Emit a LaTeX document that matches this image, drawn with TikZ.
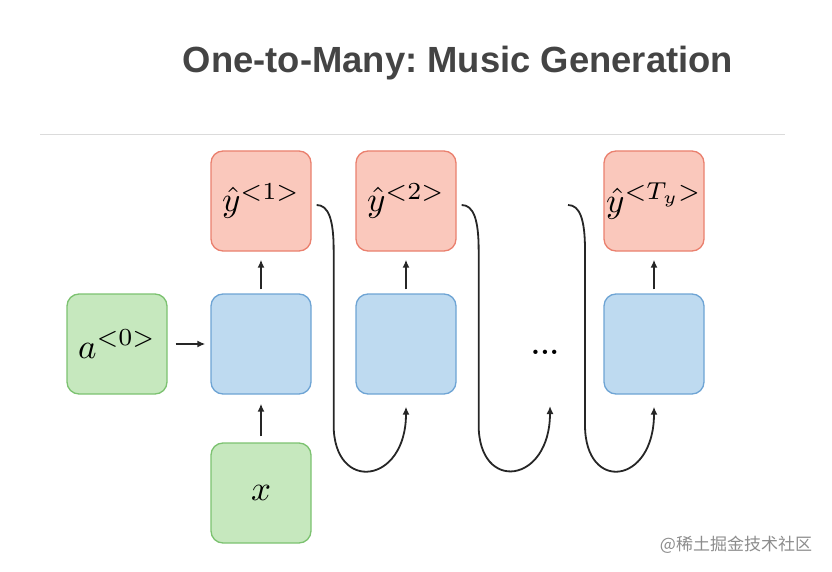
\documentclass[tikz,border=0pt]{standalone}
\usepackage{fontspec}
\usepackage{amsmath}
\usetikzlibrary{arrows.meta}
\newfontfamily\titlefont{Liberation Sans}
\newfontfamily\cjk{Noto Sans CJK SC}
\definecolor{yhat_fill}{RGB}{250,200,188}
\definecolor{yhat_line}{RGB}{234,128,110}
\definecolor{cell_fill}{RGB}{190,218,240}
\definecolor{cell_line}{RGB}{110,164,212}
\definecolor{in_fill}{RGB}{198,232,190}
\definecolor{in_line}{RGB}{124,194,112}
\definecolor{title_gray}{RGB}{68,68,68}
\newcommand{\cellmath}[1]{\scalebox{3.5}{$#1$}}

\tikzset{
  unit/.style={minimum width=100pt, minimum height=100pt, rounded corners=12pt,
    line width=1.3pt, inner sep=0pt},
  output/.style={unit, fill=yhat_fill, draw=yhat_line},
  rnn/.style={unit, fill=cell_fill, draw=cell_line},
  input/.style={unit, fill=in_fill, draw=in_line},
  link/.style={-{Latex[length=8pt,width=7pt]}, line width=1.8pt, draw=black!85},
}

\begin{document}
\begin{tikzpicture}[x=1pt,y=-1pt]
\useasboundingbox (0,0) rectangle (832,572);

\node[font=\titlefont\bfseries\fontsize{36.4}{40}\selectfont, text=title_gray, anchor=base]
  (title) at (458,73) {One-to-Many:\ Music Generation};
\coordinate (rule_l) at (40,135);
\coordinate (rule_r) at (785,135);
\draw[black!14, line width=1pt] (rule_l) -- (rule_r);

% outputs
\node[output] (y1) at (261,201) {\cellmath{\hat{y}^{<1>}}};
\node[output] (y2) at (406,201) {\cellmath{\hat{y}^{<2>}}};
\node[output] (yT) at (654,201) {\cellmath{\hat{y}^{<T_y>}}};

% cells
\node[rnn] (c1) at (261,344) {};
\node[rnn] (c2) at (406,344) {};
\node[rnn] (cT) at (654,344) {};

% inputs
\node[input] (a0) at (117,344) {\cellmath{a^{<0>}}};
\node[input] (x) at (261,493) {\cellmath{x}};

\node[font=\bfseries\fontsize{30}{30}\selectfont] (dots) at (545,352) {...};
\coordinate (dots_in) at (550,394);
\coordinate (dots_out) at (563,201);

\draw[link] ([xshift=8pt]a0.east) -- ([xshift=-5pt]c1.west);
\draw[link] ([yshift=6pt]x.north) -- ([yshift=-9pt]c1.south);
\foreach \c/\y in {c1/y1, c2/y2, cT/yT}
  \draw[link] ([yshift=4pt]\c.north) -- ([yshift=-8pt]\y.south);

% a carried to the next step
\foreach \from/\to in {y1.east/c2.south, y2.east/dots_in, dots_out/cT.south}
  \draw[link] ([xshift=5pt,yshift=-4pt]\from) .. controls +(12,0) and +(0,-30) .. ++(17,45)
    -- ++(0,175) .. controls +(0,68) and +(0,78) .. ([yshift=-12pt]\to);

\node[font=\cjk\fontsize{17}{17}\selectfont, text=black!45] (mark) at (736,545) {@稀土掘金技术社区};
\end{tikzpicture}
\end{document}
